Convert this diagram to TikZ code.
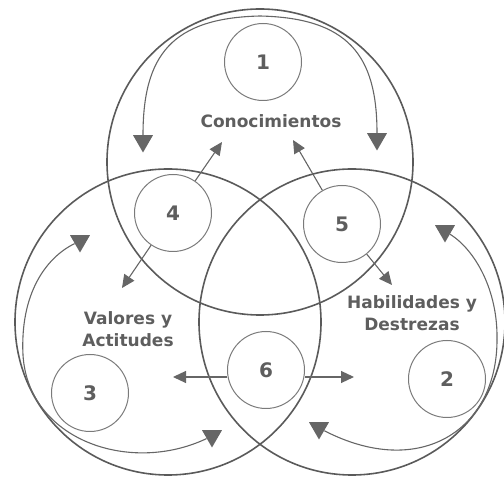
\documentclass[tikz,border=0pt]{standalone}
\usepackage{fontspec}
\setmainfont{DejaVu Sans}
\usetikzlibrary{arrows.meta,shapes.geometric}
\definecolor{ringgray}{HTML}{5A5A5A}
\definecolor{subgray}{HTML}{7A7A7A}
\definecolor{arrowgray}{HTML}{666666}
\definecolor{textgray}{HTML}{5E5E5E}
\begin{document}
\begin{tikzpicture}[x=1pt,y=-1pt,
  ring/.style={draw=ringgray, line width=1.6pt, circle, minimum size=306pt, inner sep=0},
  numring/.style={draw=subgray, line width=1pt, circle, minimum size=77pt, inner sep=0,
    font=\bfseries\fontsize{20}{24}\selectfont, text=textgray},
  areatext/.style={font=\bfseries\fontsize{17}{22}\selectfont, text=textgray, align=center, inner sep=0},
  flow/.style={draw=arrowgray, line width=1.1pt, -{Triangle[length=13pt,width=12pt]}},
  curvelink/.style={draw=arrowgray, line width=1.1pt},
  headmark/.style={regular polygon, regular polygon sides=3, shape border rotate=180,
    fill=arrowgray, minimum size=23pt, inner sep=0},
]
\useasboundingbox (0,0) rectangle (504,478);

% the three overlapping areas
\node[ring] (top)   at (260,162) {};
\node[ring] (left)  at (168,322) {};
\node[ring] (right) at (352,322) {};

% area titles
\node[areatext] (conoc) at (271,121) {Conocimientos};
\node[areatext] (valor) at (128,329) {Valores y\\Actitudes};
\node[areatext] (habil) at (412,313) {Habilidades y\\Destrezas};

% numbered circles
\node[numring] (n1) at (263,62)  {1};
\node[numring] (n2) at (447,379) {2};
\node[numring] (n3) at (90,393)  {3};
\node[numring] (n4) at (173,213) {4};
\node[numring] (n5) at (342,224) {5};
\node[numring] (n6) at (266,370) {6};

% straight arrows
\coordinate (k4c) at (222,142);
\coordinate (k5c) at (293,140);
\coordinate (k4v) at (122,288);
\coordinate (k5h) at (392,285);
\coordinate (k6l) at (173,377);
\coordinate (k6r) at (354,377);
\draw[flow] (n4) -- (k4c);
\draw[flow] (n5) -- (k5c);
\draw[flow] (n4) -- (k4v);
\draw[flow] (n5) -- (k5h);
\draw[flow] (n6.west |- k6l) -- (k6l);
\draw[flow] (n6.east |- k6r) -- (k6r);

% arrow heads of the curved arrows
\node[headmark] (h1l) at (143,141) {};
\node[headmark] (h1r) at (377,139) {};
\node[headmark] (h3u) at (80,241)  {};
\node[headmark] (h3d) at (212,436) {};
\node[headmark] (h2u) at (445,231) {};
\node[headmark] (h2d) at (319,428) {};

% curved arrows along the inside of each area
\coordinate (ctop)   at (260,16);
\coordinate (cleft)  at (23,355);
\coordinate (cright) at (497,340);
\draw[curvelink] (ctop) .. controls (172,18) and (143,55) .. (h1l);
\draw[curvelink] (ctop) .. controls (348,18) and (377,55) .. (h1r);
\draw[curvelink] (cleft) .. controls (20,295) and (45,258) .. (h3u);
\draw[curvelink] (cleft) .. controls (28,440) and (130,475) .. (h3d);
\draw[curvelink] (cright) .. controls (498,290) and (475,250) .. (h2u);
\draw[curvelink] (cright) .. controls (497,430) and (420,480) .. (h2d);
\end{tikzpicture}
\end{document}
